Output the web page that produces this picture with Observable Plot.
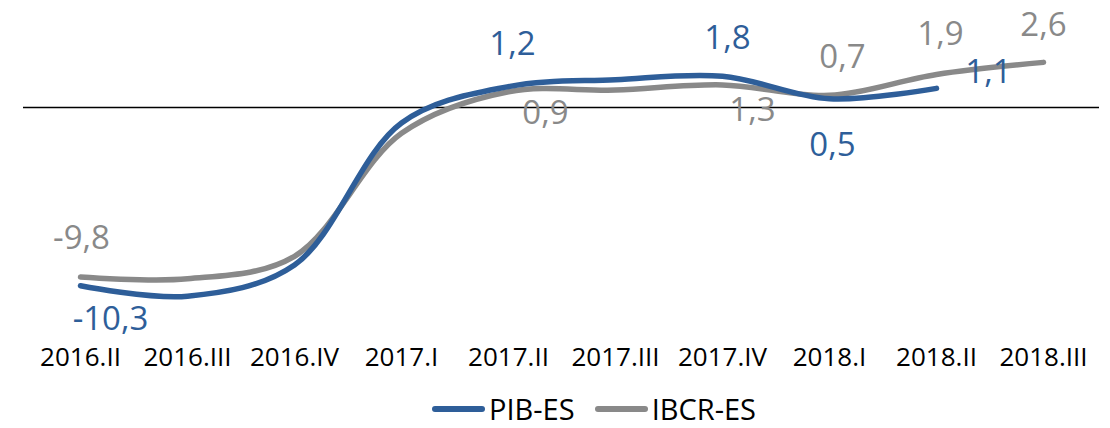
<!DOCTYPE html>
<html>
<head>
<meta charset="utf-8">
<script src="https://cdn.jsdelivr.net/npm/d3@7"></script>
<script src="https://cdn.jsdelivr.net/npm/@observablehq/plot@0.6"></script>
<style>
  html, body { margin: 0; padding: 0; background: #fff; width: 1110px; height: 428px; overflow: hidden; }
  #chart svg { display: block; }
  .legend { box-sizing: border-box; height: 38px; padding-left: 432px; display: flex; align-items: flex-end; font-family: "Open Sans", sans-serif; font-size: 29px; line-height: normal; color: #000; }
  .legend .sw { display: inline-block; width: 53px; height: 6px; border-radius: 3px; margin-right: 4px; }
  .legend .item { display: flex; align-items: center; margin-right: 20px; }
</style>
</head>
<body>
<div id="chart"></div>
<div class="legend" id="legend"></div>
<script>
const quarters = ["2016.II","2016.III","2016.IV","2017.I","2017.II","2017.III","2017.IV","2018.I","2018.II","2018.III"];
const pibValues  = [-10.3, -10.9, -9.1, -0.9, 1.2, 1.6, 1.8, 0.5, 1.1];
const ibcrValues = [-9.8, -9.9, -8.6, -1.5, 0.9, 1.0, 1.3, 0.7, 1.9, 2.6];
const seriesNames = ["PIB-ES", "IBCR-ES"];
const pibLabelIdx  = [0, 4, 6, 7, 8];
const ibcrLabelIdx = [0, 4, 6, 7, 8, 9];

const colors = {"PIB-ES": "#2E5E99", "IBCR-ES": "#898989"};

// label placement (pixel offsets from point)
const pibOffsets  = {0: [30, 34], 4: [4, -42], 6: [5, -38], 7: [3, 47], 8: [52, -16]};
const ibcrOffsets = {0: [1, -39], 4: [37, 22], 6: [30, 26], 7: [13, -38], 8: [4, -40], 9: [0, -37]};

const pib = pibValues.map((v, i) => ({q: quarters[i], v, s: seriesNames[0], i}));
const ibcr = ibcrValues.map((v, i) => ({q: quarters[i], v, s: seriesNames[1], i}));

const fmt = v => String(v).replace(".", ",");

const labelMarks = [];
for (const i of pibLabelIdx) {
  const d = pib[i];
  labelMarks.push(Plot.text([d], {x: "q", y: "v", text: d => fmt(d.v), dx: pibOffsets[i][0], dy: pibOffsets[i][1], fill: colors["PIB-ES"], fontSize: 33, lineAnchor: "middle"}));
}
for (const i of ibcrLabelIdx) {
  const d = ibcr[i];
  labelMarks.push(Plot.text([d], {x: "q", y: "v", text: d => fmt(d.v), dx: ibcrOffsets[i][0], dy: ibcrOffsets[i][1], fill: colors["IBCR-ES"], fontSize: 33, lineAnchor: "middle"}));
}

const chart = Plot.plot({
  width: 1110,
  height: 390,
  marginTop: 3,
  marginBottom: 58,
  marginLeft: 23,
  marginRight: 11,
  style: {fontFamily: "Open Sans, sans-serif", background: "#fff"},
  x: {type: "point", domain: quarters, padding: 0.5, label: null},
  y: {domain: [-13, 6], axis: null},
  marks: [
    Plot.ruleY([0], {stroke: "#000", strokeWidth: 1.5}),
    Plot.line(ibcr, {x: "q", y: "v", stroke: colors["IBCR-ES"], strokeWidth: 5.5, curve: "catmull-rom", strokeLinecap: "round", strokeLinejoin: "round"}),
    Plot.line(pib, {x: "q", y: "v", stroke: colors["PIB-ES"], strokeWidth: 5.5, curve: "catmull-rom", strokeLinecap: "round", strokeLinejoin: "round"}),
    ...labelMarks,
    Plot.axisX({tickSize: 0, tickPadding: 15, fontSize: 26, label: null, fill: "#000"})
  ]
});
document.getElementById("chart").appendChild(chart);

const legend = document.getElementById("legend");
for (const s of seriesNames) {
  const item = document.createElement("div");
  item.className = "item";
  const sw = document.createElement("span");
  sw.className = "sw";
  sw.style.background = colors[s];
  const t = document.createElement("span");
  t.textContent = s;
  item.appendChild(sw);
  item.appendChild(t);
  legend.appendChild(item);
}
</script>
</body>
</html>
